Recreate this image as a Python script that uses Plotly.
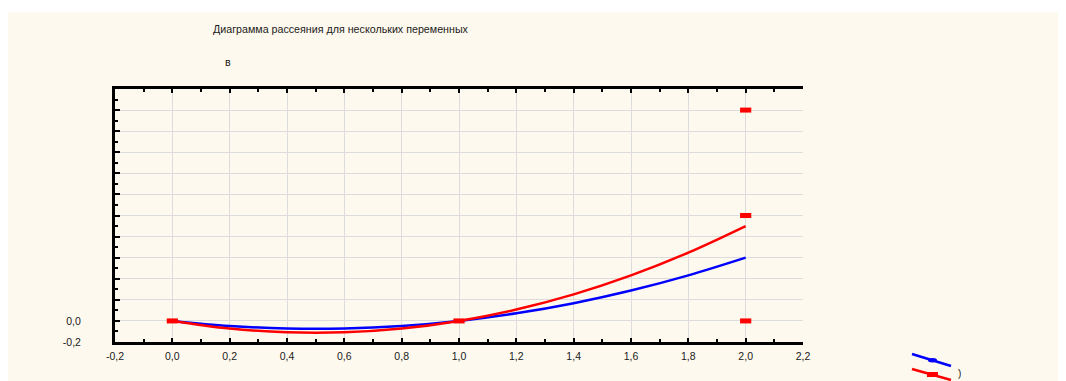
import plotly.graph_objects as go

# Data
curve_x = [0.0, 0.2, 0.4, 0.6, 0.8, 1.0, 1.2, 1.4, 1.6, 1.8, 2.0]
blue_y = [0.0, -0.048, -0.072, -0.072, -0.048, 0.0, 0.072, 0.168, 0.288, 0.432, 0.6]
red_y = [0.0, -0.072, -0.108, -0.108, -0.072, 0.0, 0.108, 0.252, 0.432, 0.648, 0.9]
point_x = [0.0, 1.0, 2.0, 2.0, 2.0]
point_y = [0.0, 0.0, 0.0, 1.0, 2.0]

x_tickvals = [-0.2, 0.0, 0.2, 0.4, 0.6, 0.8, 1.0, 1.2, 1.4, 1.6, 1.8, 2.0, 2.2]
x_ticktext = ["-0,2", "0,0", "0,2", "0,4", "0,6", "0,8", "1,0", "1,2", "1,4", "1,6", "1,8", "2,0", "2,2"]
y_tickvals = [-0.2, 0.0, 0.2, 0.4, 0.6, 0.8, 1.0, 1.2, 1.4, 1.6, 1.8, 2.0, 2.2]
y_ticktext = ["-0,2", "0,0", "", "", "", "", "", "", "", "", "", "", ""]

title_text = "Диаграмма рассеяния для нескольких переменных"
subtitle_text = "в"
legend_label = ")"

BLUE = "#0000ff"
RED = "#ff0000"
CREAM = "#fef9ee"
FONT = "Liberation Sans, Arial, sans-serif"
TXT = "#1a1a1a"

fig = go.Figure()
fig.add_trace(go.Scatter(x=curve_x, y=blue_y, mode="lines", line=dict(color=BLUE, width=2.5, shape="spline"),
                         showlegend=False, hoverinfo="skip"))
fig.add_trace(go.Scatter(x=curve_x, y=red_y, mode="lines", line=dict(color=RED, width=2.5, shape="spline"),
                         showlegend=False, hoverinfo="skip"))
fig.add_trace(go.Scatter(x=point_x, y=point_y, mode="markers",
                         marker=dict(symbol="line-ew", size=8, line=dict(color=RED, width=5)),
                         showlegend=False))

# page has an 8px body margin: all positions below are page pixels minus that offset
OFF = 8
W, H = 1052, 373
L, T = 115 - OFF, 89 - OFF
Rx, By = 803 - OFF, 342 - OFF
R, B = W - Rx, H - By
pw, ph = Rx - L, By - T


def px(x):
    return (x - OFF - L) / pw


def py(y):
    return (By - (y - OFF)) / ph


shapes = [
    dict(type="rect", xref="paper", yref="paper", x0=px(8), x1=px(1059), y0=py(381), y1=py(12),
         fillcolor=CREAM, line=dict(width=0), layer="below"),
    # legend glyphs
    dict(type="line", xref="paper", yref="paper", x0=px(912), y0=py(354), x1=px(951), y1=py(366),
         line=dict(color=BLUE, width=2.5)),
    dict(type="circle", xref="paper", yref="paper", x0=px(928), y0=py(358), x1=px(937), y1=py(362.5),
         fillcolor=BLUE, line=dict(width=0)),
    dict(type="line", xref="paper", yref="paper", x0=px(912), y0=py(369), x1=px(951), y1=py(380),
         line=dict(color=RED, width=2.5)),
    dict(type="rect", xref="paper", yref="paper", x0=px(927), y0=py(372), x1=px(938), y1=py(377),
         fillcolor=RED, line=dict(width=0)),
]

annotations = [
    dict(text=title_text, xref="paper", yref="paper", x=px(211), y=py(29), xanchor="left", yanchor="middle",
         showarrow=False, font=dict(size=10.7, color=TXT, family=FONT)),
    dict(text=subtitle_text, xref="paper", yref="paper", x=px(223), y=py(62), xanchor="left", yanchor="middle",
         showarrow=False, font=dict(size=10.7, color=TXT, family=FONT)),
    dict(text=legend_label, xref="paper", yref="paper", x=px(956), y=py(373), xanchor="left", yanchor="middle",
         showarrow=False, font=dict(size=10, color=TXT, family=FONT)),
]

fig.update_layout(
    width=W, height=H,
    margin=dict(l=L, r=R, t=T, b=B, pad=0),
    paper_bgcolor="white",
    plot_bgcolor="white",
    font=dict(family=FONT, size=10.5, color=TXT),
    shapes=shapes,
    annotations=annotations,
    showlegend=False,
)
fig.update_xaxes(
    range=[-0.2, 2.2], tickvals=x_tickvals, ticktext=x_ticktext,
    showgrid=True, gridcolor="#dcdcdc", gridwidth=1, zeroline=False,
    showline=True, linecolor="black", linewidth=2.5, mirror="allticks",
    ticks="inside", ticklen=4, tickwidth=2, tickcolor="black",
    minor=dict(dtick=0.1, tick0=-0.2, ticks="inside", ticklen=3, tickwidth=1.5, tickcolor="black", showgrid=False),
    ticklabelstandoff=3,
    tickfont=dict(size=10.5, color=TXT),
)
fig.update_yaxes(
    range=[-0.2, 2.2], tickvals=y_tickvals, ticktext=y_ticktext,
    showgrid=True, gridcolor="#dcdcdc", gridwidth=1, zeroline=False,
    showline=True, linecolor="black", linewidth=3, mirror=False,
    ticks="inside", ticklen=5, tickwidth=2, tickcolor="black",
    minor=dict(dtick=0.1, tick0=-0.2, ticks="inside", ticklen=3, tickwidth=2, tickcolor="black", showgrid=False),
    ticklabelstandoff=29,
    tickfont=dict(size=10.5, color=TXT),
)

fig.write_html("out.html")
